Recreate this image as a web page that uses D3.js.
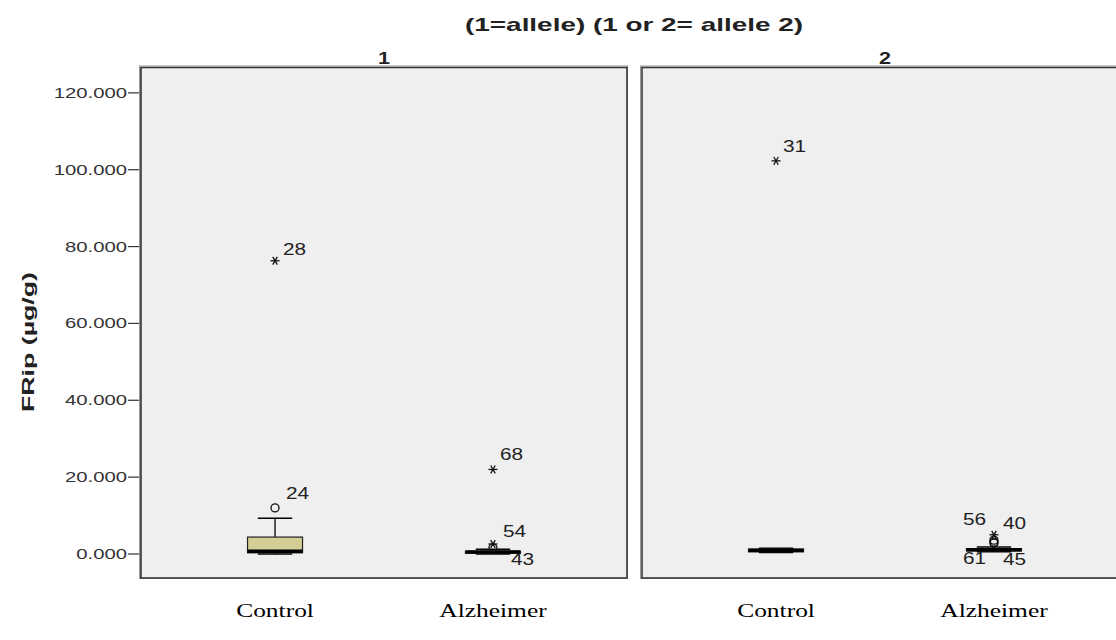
<!DOCTYPE html>
<html><head><meta charset="utf-8">
<script src="https://cdn.jsdelivr.net/npm/d3@7"></script>
<style>body{margin:0;background:#fff}svg{display:block}</style>
</head><body>
<svg id="c" width="1116" height="640"></svg>
<script>
// ---- data ----
const groups = ["1", "2"];
const categories = ["Control", "Alzheimer"];
const boxKeys = [["1","Control"],["1","Alzheimer"],["2","Control"],["2","Alzheimer"]];
const lowWhisker  = [0.0, 0.0, 0.4, 0.6];
const q1          = [0.3, 0.2, 0.6, 0.8];
const median      = [0.7, 0.5, 0.9, 1.1];
const q3          = [4.4, 0.7, 1.3, 1.4];
const highWhisker = [9.3, 1.2, 1.5, 1.8];
const outlierGroup = ["1","1","1","1","1","2","2","2","2","2"];
const outlierCat   = ["Control","Control","Alzheimer","Alzheimer","Alzheimer","Control","Alzheimer","Alzheimer","Alzheimer","Alzheimer"];
const outlierId    = ["28","24","68","54","43","31","40","56","61","45"];
const outlierValue = [76.3, 12.0, 22.0, 2.6, 1.6, 102.3, 5.0, 3.6, 3.1, 2.8];
const outlierType  = ["extreme","outlier","extreme","extreme","outlier","extreme","extreme","outlier","outlier","outlier"];
const yTicks = [0, 20, 40, 60, 80, 100, 120];
const yDomain = [-6.25, 126.6];
const title = "(1=allele) (1 or 2= allele 2)";
const yTitle = "FRip (\u00b5g/g)";

// ---- layout ----
const svg = d3.select("#c");
const panelTop = 67.5, panelBottom = 578, panelW = 486;
const panelLeft = {"1": 141, "2": 642};
const SX = 1.35; // horizontal stretch of text as in reference
const y = d3.scaleLinear().domain(yDomain).range([panelBottom, panelTop]);
const x = d3.scalePoint().domain(categories).range([0, panelW]).padding(0.615);
const boxW = 55;

// label offsets (dx, dy) relative to marker
const labelOff = {"28":[8,-6],"24":[11,-9],"68":[7,-9],"54":[10,-7],"43":[18,17],
  "31":[7,-9],"40":[9,-6],"56":[-31,-15],"61":[-31,22],"45":[9,22]};

function stext(g, txt, px, py, size, opts={}) {
  return g.append("text").attr("transform", `translate(${px},${py}) scale(${opts.sx||SX},1)`)
    .attr("text-anchor", opts.anchor||"middle")
    .attr("font-family", opts.family||"'Liberation Sans', Arial, sans-serif")
    .attr("font-size", size).attr("font-weight", opts.weight||"normal")
    .attr("fill", opts.fill||"#222").text(txt);
}

// title
stext(svg, title, 634, 31, 18, {weight:"bold", sx:1.55});

// y axis title
svg.append("text").attr("transform","translate(34,342) rotate(-90)")
  .attr("text-anchor","middle").attr("font-family","'Liberation Sans', Arial, sans-serif")
  .attr("font-size",17).attr("font-weight","bold").attr("fill","#222")
  .attr("textLength",140).attr("lengthAdjust","spacingAndGlyphs").text(yTitle);

// y axis
const yAxisG = svg.append("g").attr("transform", `translate(${panelLeft["1"]},0)`);
yAxisG.append("line").attr("x1",0).attr("x2",0).attr("y1",panelTop).attr("y2",panelBottom).attr("stroke","#333");
yTicks.forEach(t => {
  yAxisG.append("line").attr("x1",-13).attr("x2",0).attr("y1",y(t)).attr("y2",y(t)).attr("stroke","#333").attr("stroke-width",1.2);
  stext(yAxisG, d3.format(".3f")(t), -14, y(t)+5, 14, {anchor:"end", fill:"#333", sx:1.45});
});

function star(g, cx, cy) {
  const r = 4.5;
  [0, 60, 120].forEach(a => {
    const rad = a*Math.PI/180;
    g.append("line").attr("x1",cx-r*Math.cos(rad)).attr("y1",cy-r*Math.sin(rad))
      .attr("x2",cx+r*Math.cos(rad)).attr("y2",cy+r*Math.sin(rad))
      .attr("stroke","#111").attr("stroke-width",1.3);
  });
}

groups.forEach(gk => {
  const L = panelLeft[gk];
  const g = svg.append("g").attr("transform", `translate(${L},0)`);
  // shadow + panel
  g.append("rect").attr("x",-1.5).attr("y",panelTop-1.5).attr("width",panelW+2).attr("height",panelBottom-panelTop+2)
    .attr("fill","none").attr("stroke","#999").attr("stroke-width",1);
  g.append("rect").attr("x",0).attr("y",panelTop).attr("width",panelW).attr("height",panelBottom-panelTop)
    .attr("fill","#efefef").attr("stroke","#3a3a3a").attr("stroke-width",1.6);
  // facet label
  stext(g, gk, panelW/2, 64, 16, {weight:"bold"});
  // x category labels
  categories.forEach(c => {
    stext(g, c, x(c), 617, 19, {family:"'Liberation Serif', 'Times New Roman', serif", fill:"#000", sx:1.34});
  });
  // boxes
  boxKeys.forEach((k, i) => {
    if (k[0] !== gk) return;
    const cx = x(k[1]);
    g.append("line").attr("x1",cx).attr("x2",cx).attr("y1",y(q3[i])).attr("y2",y(highWhisker[i])).attr("stroke","#000").attr("stroke-width",1.3);
    g.append("line").attr("x1",cx).attr("x2",cx).attr("y1",y(q1[i])).attr("y2",y(lowWhisker[i])).attr("stroke","#000").attr("stroke-width",1.3);
    g.append("line").attr("x1",cx-boxW/3.2).attr("x2",cx+boxW/3.2).attr("y1",y(highWhisker[i])).attr("y2",y(highWhisker[i])).attr("stroke","#000").attr("stroke-width",1.5);
    g.append("line").attr("x1",cx-boxW/3.2).attr("x2",cx+boxW/3.2).attr("y1",y(lowWhisker[i])).attr("y2",y(lowWhisker[i])).attr("stroke","#000").attr("stroke-width",1.5);
    g.append("rect").attr("x",cx-boxW/2).attr("y",y(q3[i])).attr("width",boxW).attr("height",Math.max(0.5,y(q1[i])-y(q3[i])))
      .attr("fill","#d3cd96").attr("stroke","#222").attr("stroke-width",1.2);
    g.append("line").attr("x1",cx-boxW/2).attr("x2",cx+boxW/2).attr("y1",y(median[i])).attr("y2",y(median[i])).attr("stroke","#000").attr("stroke-width",3.5);
  });
  // outliers
  outlierId.forEach((id, i) => {
    if (outlierGroup[i] !== gk) return;
    const cx = x(outlierCat[i]), cy = y(outlierValue[i]);
    if (outlierType[i] === "extreme") star(g, cx, cy);
    else g.append("circle").attr("cx",cx).attr("cy",cy).attr("r",4).attr("fill","none").attr("stroke","#111").attr("stroke-width",1.3);
    const o = labelOff[id];
    stext(g, id, cx+o[0], cy+o[1], 16, {anchor:"start", fill:"#222", sx:1.3});
  });
});
</script>
</body></html>
